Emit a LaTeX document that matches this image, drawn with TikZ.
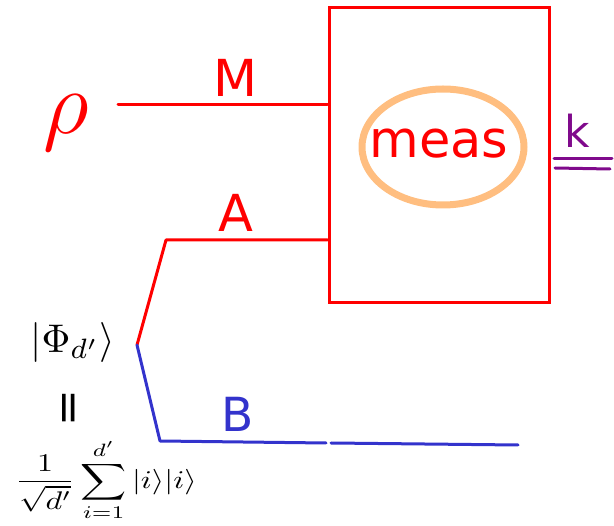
\RequirePackage{fix-cm}
\documentclass[tikz,border=0pt]{standalone}
\usepackage{fontspec}
\setsansfont{DejaVu Sans}
\usetikzlibrary{positioning}
\definecolor{wireblue}{RGB}{51,51,204}
\definecolor{ringorange}{RGB}{255,190,128}
\definecolor{kpurple}{RGB}{128,10,140}
\begin{document}
\begin{tikzpicture}[
  x=1pt, y=-1pt,
  every node/.style={font=\sffamily},
  wire/.style={line width=3pt, line cap=round, line join=round},
  lbl/.style={font=\fontsize{51}{56}\selectfont\sffamily, anchor=base, inner sep=0pt},
  hand/.style={text=black, inner sep=0pt, font=\normalsize},
]
\useasboundingbox (0,0) rectangle (614,526);

% ── measurement box ─────────────────
\node[draw=red, line width=3pt, minimum width=220pt, minimum height=295pt,
      inner sep=0pt] (box) at (439,155.5) {};
\node[lbl, text=red] (meas) at (439,158) {meas};
\draw[ringorange, line width=7pt] (443,147) ellipse [x radius=81, y radius=58];

% ── wires M and A (red) ─────────────
\coordinate (mIn) at (118,105);
\coordinate (aBend) at (166,240);
\coordinate (fork) at (137,345);
\draw[wire, red] (mIn) -- (mIn -| box.west);
\draw[wire, red] (fork) -- (aBend) -- (aBend -| box.west);
\node[lbl, text=red] (mLbl) at (235,97) {M};
\node[lbl, text=red] (aLbl) at (236,232) {A};

% ── wire B (blue) ───────────────────
\coordinate (bBend) at (160,441);
\coordinate (bMid) at (326,443);
\coordinate (bMid2) at (331,443);
\coordinate (bEnd) at (518,445);
\draw[wire, wireblue] (fork) -- (bBend) -- (bMid);
\draw[wire, wireblue] (bMid2) -- (bEnd);
\node[lbl, text=wireblue, font=\fontsize{47}{52}\selectfont\sffamily] (bLbl) at (238,432) {B};

% ── outcome k (purple) ──────────────
\node[lbl, text=kpurple, font=\fontsize{44}{48}\selectfont\sffamily] (kLbl) at (577,148) {k};
\coordinate (kU1) at (554,159);
\coordinate (kU2) at (555,168);
\draw[wire, kpurple] (kU1) -- ++(58,0);
\draw[wire, kpurple] (kU2) -- ++(55,1);

% ── input state rho ─────────────────
\node[hand, text=red, font=\fontsize{90}{96}\selectfont] (rho) at (66,123) {$\rho$};

% ── maximally entangled state ───────
\node[hand, scale=4] (phi) at (73,343) {$|\Phi_{d'}\rangle$};
\node[hand, font=\fontsize{44}{48}\selectfont\sffamily] (eq) at (73,408) {\rotatebox{90}{=}};
\node[hand, xscale=3.2, yscale=2.55] (sum) at (106,480)
  {$\displaystyle\frac{1}{\sqrt{d'}}\sum_{i=1}^{d'}|i\rangle|i\rangle$};

\end{tikzpicture}
\end{document}
